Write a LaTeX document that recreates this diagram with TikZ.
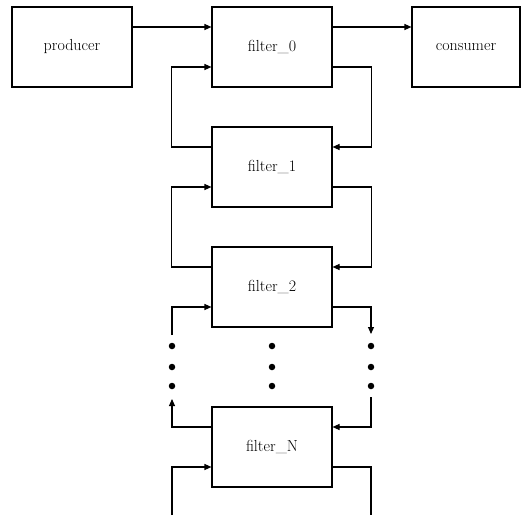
\documentclass[tikz,border=0pt]{standalone}
\usetikzlibrary{arrows.meta}
\begin{document}
\begin{tikzpicture}[x=1pt,y=-1pt,
  box/.style={draw, line width=1.1pt, minimum width=120pt, minimum height=80pt, inner sep=0pt, font=\fontsize{16}{18}\selectfont},
  wire/.style={line width=1.1pt},
  arr/.style={wire, -{Triangle[length=7pt,width=6pt]}},
  dotmark/.style={circle, fill=black, minimum size=6.5pt, inner sep=0pt}]
\useasboundingbox (0,0) rectangle (523,515);
\node[box] (prod) at (72,47) {producer};
\node[box] (f0) at (272,47) {filter\_0};
\node[box, minimum width=108pt] (cons) at (466,47) {consumer};
\node[box] (f1) at (272,167) {filter\_1};
\node[box] (f2) at (272,287) {filter\_2};
\node[box] (fN) at (272,447) {filter\_N};
% dots
\foreach \x/\n in {172/l,272/m,371/r}{
  \node[dotmark] (d\n1) at (\x,346) {};
  \node[dotmark] (d\n2) at (\x,367) {};
  \node[dotmark] (d\n3) at (\x,386) {};
}
\coordinate (l2) at (172,335);
\coordinate (r2) at (371,334);
\coordinate (lN) at (172,399);
\coordinate (rN) at (371,397);
\coordinate (lb) at (172,515);
\coordinate (rb) at (371,515);
% forward chain
\draw[arr] ([yshift=20pt]prod.east) -- ([yshift=20pt]f0.west);
\draw[arr] ([yshift=20pt]f0.east) -- ([yshift=20pt]cons.west);
% loops
\draw[arr] ([yshift=20pt]f1.west) -- ++(-40,0) |- ([yshift=-20pt]f0.west);
\draw[arr] ([yshift=-20pt]f0.east) -- ++(39,0) |- ([yshift=20pt]f1.east);
\draw[arr] ([yshift=-20pt]f1.east) -- ++(39,0) |- ([yshift=20pt]f2.east);
\draw[arr] ([yshift=20pt]f2.west) -- ++(-40,0) |- ([yshift=-20pt]f1.west);
\draw[arr] (l2) |- ([yshift=-20pt]f2.west);
\draw[arr] ([yshift=-20pt]f2.east) -| (r2);
\draw[arr] ([yshift=20pt]fN.west) -| (lN);
\draw[arr] (rN) |- ([yshift=20pt]fN.east);
\draw[wire] ([yshift=-20pt]fN.east) -| (rb);
\draw[arr] (lb) |- ([yshift=-20pt]fN.west);
\end{tikzpicture}
\end{document}
